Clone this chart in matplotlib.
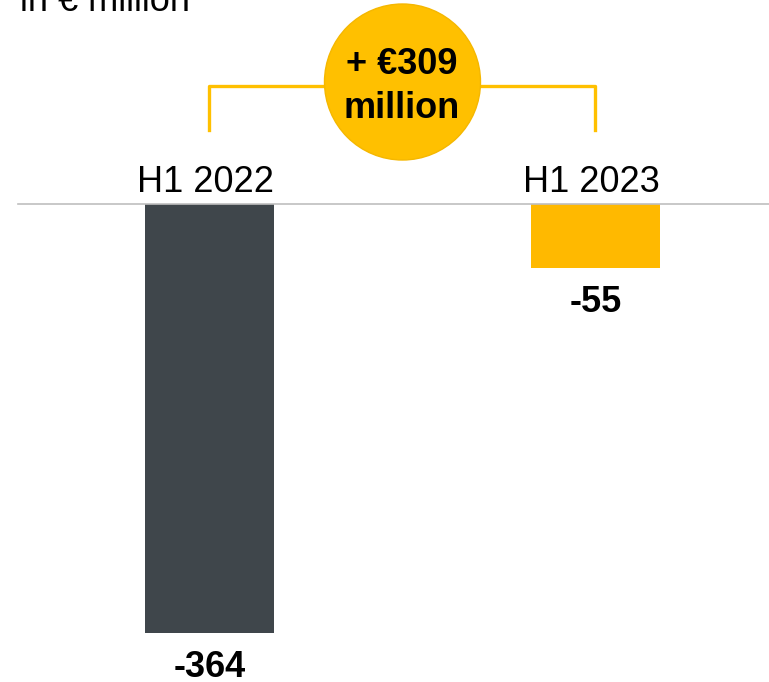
import matplotlib.pyplot as plt
from matplotlib.patches import Ellipse

periods = ["H1 2022", "H1 2023"]
values = [-364, -55]
colors = ["#3F464B", "#FFB900"]
delta_text = "+ €309\nmillion"

plt.rcParams['font.family'] = ['Liberation Sans', 'DejaVu Sans']

fig = plt.figure(figsize=(7.69, 6.82), dpi=100)
ax = fig.add_axes([0, 0, 1, 1])
ax.set_xlim(-0.5427, 1.4495)
ax.set_ylim(-405.5, 172.5)
ax.axis("off")

x = list(range(len(periods)))
ax.bar(x, values, width=0.334, color=colors, zorder=2)

# baseline
ax.plot([-0.496, 1.4495], [0, 0], color="#BFBFBF", lw=1.2, zorder=3)

for xi, p, v in zip(x, periods, values):
    ax.text(xi - 0.01, 9.7, p, ha="center", va="baseline", fontsize=26)
    ax.annotate(str(v), (xi, v), xytext=(0, -31.5), textcoords="offset points",
                ha="center", va="baseline", fontsize=26, fontweight="bold")

# bracket with circle
yl = 99.6
ax.plot([0, 0, 1, 1], [62.3, yl, yl, 62.3], color="#FFC000", lw=2.4, zorder=1)
ax.add_patch(Ellipse((0.5, 103), 156 / 386, 156 / 1.18, facecolor="#FFC000",
                     edgecolor="#F5B700", lw=1, zorder=4))
ax.text(0.497, 99, delta_text, ha="center", va="center", fontsize=26,
        fontweight="bold", linespacing=1.32, zorder=5)

fig.text(20 / 769, 1 - 11 / 682, "in € million", ha="left", va="baseline", fontsize=26)

fig.savefig("out.png", dpi=100)
